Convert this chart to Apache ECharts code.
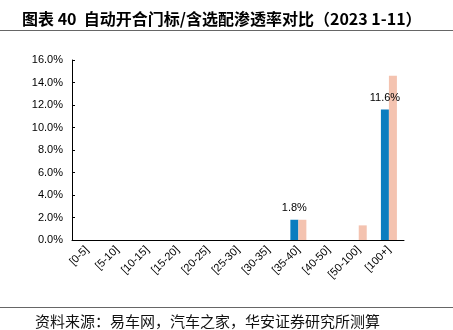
<!DOCTYPE html>
<html><head><meta charset="utf-8">
<script src="https://cdn.jsdelivr.net/npm/echarts@6/dist/echarts.min.js"></script>
<style>html,body{margin:0;padding:0;background:#fff}#c{width:453px;height:330px}</style>
</head><body><div id="c"></div>
<script>
const categories = ['[0-5]','[5-10]','[10-15]','[15-20]','[20-25]','[25-30]','[30-35]','[35-40]','[40-50]','[50-100]','[100+]'];
const seriesA = [0,0,0,0,0,0,0,1.8,0,0,11.6];
const seriesB = [0,0,0,0,0,0,0,1.8,0,1.3,14.6];
const yTicks = [0,2,4,6,8,10,12,14,16];
const titleText = '图表 40  自动开合门标/含选配渗透率对比（2023 1-11）';
const sourceText = '资料来源：易车网，汽车之家，华安证券研究所测算';

const chart = echarts.init(document.getElementById('c'), null, {renderer:'canvas'});
chart.setOption({
  animation:false,
  graphic:[
    {type:'text',x:22,y:18.5,style:{text:titleText,font:'bold 16px "Noto Sans CJK SC"',fill:'#000',textVerticalAlign:'middle'}},
    {type:'line',shape:{x1:0,y1:30.5,x2:453,y2:30.5},style:{stroke:'#666',lineWidth:1}},
    {type:'line',shape:{x1:0,y1:307.5,x2:453,y2:307.5},style:{stroke:'#666',lineWidth:1}},
    {type:'text',x:35,y:321,style:{text:sourceText,font:'15px "Noto Sans CJK SC"',fill:'#111',textVerticalAlign:'middle'}}
  ],
  grid:{left:72,right:49,top:60,bottom:90},
  xAxis:{type:'category',data:categories,
    axisLine:{lineStyle:{color:'#000',width:1}},
    axisTick:{inside:true,length:3,lineStyle:{color:'#000'}},
    axisLabel:{rotate:45,color:'#000',fontSize:11,fontFamily:'Liberation Sans',margin:8,interval:0}},
  yAxis:{type:'value',min:yTicks[0],max:yTicks[yTicks.length-1],interval:2,
    splitLine:{show:false},
    axisLine:{show:true,lineStyle:{color:'#000',width:1}},
    axisTick:{show:true,inside:true,length:3,lineStyle:{color:'#000'}},
    axisLabel:{color:'#000',fontSize:11,fontFamily:'Liberation Sans',margin:9,formatter:v=>v.toFixed(1)+'%'}},
  series:[
    {type:'bar',data:seriesA,barWidth:8,barGap:'0%',itemStyle:{color:'#0b7dbf'},
     label:{show:true,position:'top',distance:6,color:'#000',fontSize:11,fontFamily:'Liberation Sans',
       formatter:p=>p.value>0?p.value.toFixed(1)+'%':''}},
    {type:'bar',data:seriesB,barWidth:8,barGap:'0%',itemStyle:{color:'#f4c3b0'}}
  ]
});
</script></body></html>
